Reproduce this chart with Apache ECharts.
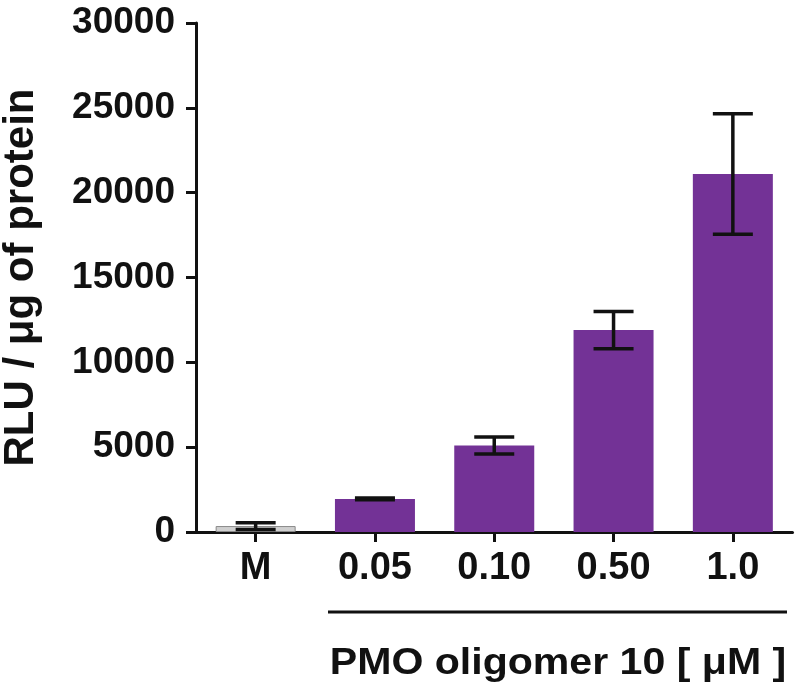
<!DOCTYPE html>
<html>
<head>
<meta charset="utf-8">
<script src="https://cdn.jsdelivr.net/npm/echarts@6/dist/echarts.min.js"></script>
<style>
html,body{margin:0;padding:0;background:#fff;}
#chart{width:800px;height:690px;}
</style>
</head>
<body>
<div id="chart"></div>
<script>
var categories = ['M', '0.05', '0.10', '0.50', '1.0'];
var means = [350, 1950, 5100, 11900, 21100];
var errors = [200, 50, 500, 1100, 3550];
var yTicks = [0, 5000, 10000, 15000, 20000, 25000, 30000];
var yName = 'RLU / \u03bcg of protein';
var xTitle = 'PMO oligomer 10 [ \u03bcM ]';

var FONT = '"Liberation Sans", Arial, sans-serif';
var PURPLE = '#733296';

var chart = echarts.init(document.getElementById('chart'), null, {renderer: 'canvas'});

var barData = means.map(function (v, i) {
  if (i === 0) {
    return {value: v, itemStyle: {color: '#cfcfcf', borderColor: '#8a8a8a', borderWidth: 1}};
  }
  return {value: v, itemStyle: {color: PURPLE}};
});

var errData = means.map(function (v, i) { return [i, v - errors[i], v + errors[i]]; });

var option = {
  animation: false,
  backgroundColor: '#ffffff',
  grid: {left: 196, top: 23, right: 7.5, bottom: 158, containLabel: false, outerBoundsMode: 'none'},
  xAxis: {
    type: 'category',
    data: categories,
    axisLine: {lineStyle: {color: '#111', width: 3}},
    axisTick: {show: true, alignWithLabel: true, length: 10, lineStyle: {color: '#111', width: 3}},
    axisLabel: {color: '#111', fontFamily: FONT, fontWeight: 'bold', fontSize: 38, margin: 18}
  },
  yAxis: {
    type: 'value',
    min: yTicks[0],
    max: yTicks[yTicks.length - 1],
    interval: yTicks[1] - yTicks[0],
    name: yName,
    nameLocation: 'middle',
    nameRotate: 90,
    nameGap: 154,
    nameTextStyle: {color: '#111', fontFamily: FONT, fontWeight: 'bold', fontSize: 42},
    splitLine: {show: false},
    axisLine: {show: true, lineStyle: {color: '#111', width: 3}},
    axisTick: {show: true, length: 10, lineStyle: {color: '#111', width: 3}},
    axisLabel: {
      color: '#111', fontFamily: FONT, fontWeight: 'bold', fontSize: 37, margin: 21,
      formatter: function (v) { return String(v); }
    }
  },
  series: [
    {
      type: 'bar',
      data: barData,
      barWidth: 80,
      z: 2
    },
    {
      type: 'custom',
      data: errData,
      z: 5,
      renderItem: function (params, api) {
        var x = api.value(0);
        var lo = api.coord([x, api.value(1)]);
        var hi = api.coord([x, api.value(2)]);
        var half = 20;
        var st = {stroke: '#111', lineWidth: 3.5};
        return {
          type: 'group',
          children: [
            {type: 'line', shape: {x1: lo[0], y1: lo[1], x2: hi[0], y2: hi[1]}, style: st},
            {type: 'line', shape: {x1: hi[0] - half, y1: hi[1], x2: hi[0] + half, y2: hi[1]}, style: st},
            {type: 'line', shape: {x1: lo[0] - half, y1: lo[1], x2: lo[0] + half, y2: lo[1]}, style: st}
          ]
        };
      }
    }
  ],
  graphic: [
    {type: 'line', shape: {x1: 328, y1: 612, x2: 787, y2: 612}, style: {stroke: '#111', lineWidth: 3}},
    {type: 'text', x: 558, y: 664, scaleX: 1.11, style: {text: xTitle, fill: '#111', font: 'bold 37px ' + FONT, textAlign: 'center', textVerticalAlign: 'middle'}}
  ]
};
chart.setOption(option);
</script>
</body>
</html>
